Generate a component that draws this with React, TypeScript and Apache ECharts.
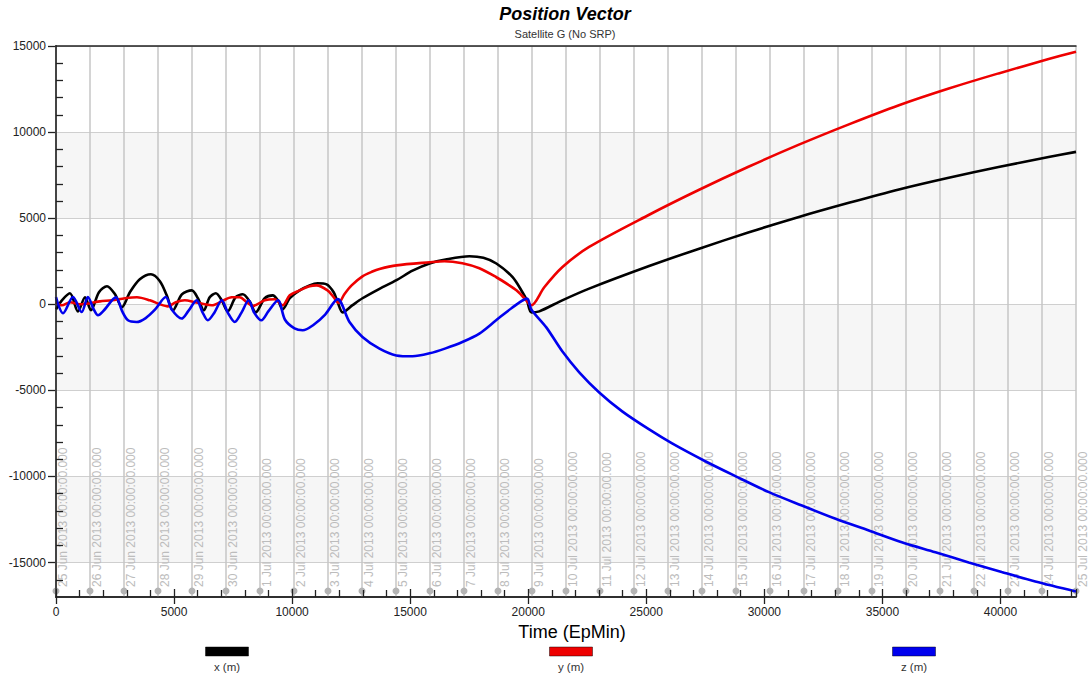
import React, { useEffect, useRef } from "react";
import * as echarts from "echarts";

const FONT = "'Liberation Sans', Arial, Helvetica, sans-serif";

// Axis ranges (minutes from epoch, metres)
const X_MIN = 0;
const X_MAX = 43200;
const Y_MIN = -17000;
const Y_MAX = 15000;

const yTickValues = [-15000, -10000, -5000, 0, 5000, 10000, 15000];

// Calendar markers, one per day from the epoch
const dayLabels = [
  "25 Jun", "26 Jun", "27 Jun", "28 Jun", "29 Jun", "30 Jun",
  "1 Jul", "2 Jul", "3 Jul", "4 Jul", "5 Jul", "6 Jul", "7 Jul", "8 Jul",
  "9 Jul", "10 Jul", "11 Jul", "12 Jul", "13 Jul", "14 Jul", "15 Jul",
  "16 Jul", "17 Jul", "18 Jul", "19 Jul", "20 Jul", "21 Jul", "22 Jul",
  "23 Jul", "24 Jul", "25 Jul",
];
const dayMinutes = dayLabels.map((_, i) => i * 1440);

const seriesNames = ["x (m)", "y (m)", "z (m)"];
const seriesColors = ["#000000", "#ee0000", "#0000ee"];
const legendCenters = [227, 571, 914];

// [time (EpMin), position (m)]
const xPosition = [
  [0, -300], [250, 230], [590, 640], [930, -410], [1230, 410], [1480, -350],
  [1820, 700], [2160, 1050], [2500, 580], [2790, -170], [3130, 700], [3550, 1450],
  [4020, 1740], [4400, 1340], [4690, 520], [4950, -350], [5330, 580], [5750, 810],
  [6010, 350], [6260, -350], [6510, 410], [6770, 640], [7020, 230], [7270, -410],
  [7610, 410], [7910, 580], [8200, 170], [8460, -470], [8840, 350], [9180, 520],
  [9400, 230], [9600, -290], [9900, 350], [10320, 810], [10740, 1100], [11080, 1220],
  [11460, 1160], [11760, 700], [11930, 120], [12140, -470], [12560, -50], [12980, 350],
  [13700, 900], [14420, 1400], [15100, 1950], [15820, 2370], [16500, 2600], [17510, 2790],
  [18100, 2700], [18650, 2370], [19330, 1590], [19750, 715], [19950, 200], [20130, -470],
  [20470, -410], [21440, 230], [22580, 910], [25120, 2220], [27240, 3230], [29350, 4180],
  [31465, 5070], [33580, 5890], [35700, 6670], [37810, 7350], [39920, 7970], [42040, 8550],
  [43200, 8850],
];

const yPosition = [
  [0, 120], [250, -60], [590, 120], [1015, 0], [1440, 60], [1860, 170],
  [2370, 230], [2920, 350], [3430, 410], [3975, 230], [4400, 0], [4740, -120],
  [5075, 120], [5455, 230], [5880, 120], [6300, 0], [6600, -60], [7020, 170],
  [7440, 410], [7780, 410], [8080, 120], [8330, -100], [8840, 230], [9260, 290],
  [9600, -60], [9900, 520], [10320, 810], [10740, 1050], [11030, 1100], [11500, 810],
  [11760, 410], [11970, 80], [12220, 600], [12520, 1100], [12980, 1620], [13400, 1900],
  [13700, 2050], [14420, 2260], [15820, 2440], [16450, 2500], [17210, 2380], [17930, 2090],
  [18650, 1570], [19200, 1100], [19500, 810], [19840, 350], [20130, -60], [20680, 990],
  [21440, 2150], [22580, 3330], [25120, 5200], [27240, 6650], [29350, 8000], [31465, 9270],
  [33580, 10450], [35700, 11560], [37810, 12530], [39920, 13410], [42040, 14240], [43200, 14670],
];

const zPosition = [
  [0, 420], [300, -520], [720, 420], [1090, -450], [1350, 420], [1600, -300],
  [1780, -640], [2000, -400], [2540, 400], [2800, -400], [3050, -930], [3410, -1030],
  [3800, -800], [4200, -300], [4650, 420], [4900, -300], [5320, -830], [5600, -400],
  [5960, 230], [6200, -450], [6430, -930], [6700, -500], [7020, 230], [7280, -500],
  [7570, -1030], [7850, -500], [8160, 230], [8400, -500], [8700, -930], [9000, -400],
  [9400, 230], [9700, -900], [10100, -1400], [10450, -1510], [10900, -1200], [11400, -600],
  [11930, 300], [12430, -1030], [12980, -1900], [13700, -2580], [14410, -2970], [15100, -3020],
  [15820, -2850], [16500, -2560], [17210, -2190], [17930, -1700], [18640, -930], [19290, -230],
  [19950, 330], [20130, -300], [20766, -1340], [21442, -2730], [22161, -3950], [23007, -5120],
  [23980, -6220], [25122, -7270], [26094, -8080], [27520, -9130], [28790, -9990], [30197, -10910],
  [31593, -11690], [33018, -12460], [34426, -13140], [35822, -13820], [37246, -14400], [38655, -14990],
  [40051, -15550], [41476, -16100], [43200, -16680],
];

const seriesData = [xPosition, yPosition, zPosition];

const plainNumber = (v: number) => String(v);

export default function App() {
  const ref = useRef<HTMLDivElement>(null);

  useEffect(() => {
    if (!ref.current) return;
    const chart = echarts.init(ref.current, null, { renderer: "svg" });

    const gridBox = { left: 56, right: 12, top: 46, bottom: 80 };
    const axisColor = "#222222";

    const option: any = {
      animation: false,
      backgroundColor: "#ffffff",
      textStyle: { fontFamily: FONT },
      title: {
        text: "Position Vector",
        subtext: "Satellite G (No SRP)",
        left: 560,
        top: 0,
        textAlign: "center",
        itemGap: 5,
        textStyle: { fontFamily: FONT, fontSize: 18, fontWeight: "bold", fontStyle: "italic", color: "#000" },
        subtextStyle: { fontFamily: FONT, fontSize: 11, color: "#333" },
      },
      grid: [
        { ...gridBox },
        { ...gridBox },
      ],
      xAxis: [
        {
          type: "value",
          gridIndex: 0,
          position: "bottom",
          min: X_MIN,
          max: X_MAX,
          interval: 5000,
          axisLine: { show: true, onZero: false, lineStyle: { color: axisColor, width: 1.5 } },
          axisTick: { show: true, inside: false, length: 7, lineStyle: { color: axisColor, width: 1.3 } },
          axisLabel: {
            show: true, margin: 9, fontSize: 12, color: "#222", fontFamily: FONT,
            showMaxLabel: false, formatter: plainNumber,
          },
          splitLine: { show: false },
          name: "Time (EpMin)",
          nameLocation: "middle",
          nameGap: 24,
          nameTextStyle: { fontSize: 18, color: "#000", fontFamily: FONT, padding: [0, 0, 0, 12] },
        },
        {
          type: "value",
          gridIndex: 1,
          position: "bottom",
          min: X_MIN,
          max: X_MAX,
          interval: 5000,
          z: 5,
          axisLine: { show: true, onZero: false, lineStyle: { color: axisColor, width: 1.5 } },
          axisTick: { show: true, inside: true, length: 8, lineStyle: { color: axisColor, width: 1.3 } },
          minorTick: { show: true, splitNumber: 5, length: 7, lineStyle: { color: axisColor, width: 1.3 } },
          axisLabel: { show: false },
          splitLine: { show: false },
        },
        {
          type: "value",
          gridIndex: 1,
          position: "top",
          min: X_MIN,
          max: X_MAX,
          z: 5,
          axisLine: { show: true, onZero: false, lineStyle: { color: axisColor, width: 1.5 } },
          axisTick: { show: false },
          axisLabel: { show: false },
          splitLine: { show: false },
        },
      ],
      yAxis: [
        {
          type: "value",
          gridIndex: 0,
          position: "left",
          min: Y_MIN,
          max: Y_MAX,
          axisLine: { show: true, onZero: false, lineStyle: { color: axisColor, width: 1.5 } },
          axisTick: { show: true, inside: false, length: 8, customValues: yTickValues, lineStyle: { color: axisColor, width: 1.3 } },
          axisLabel: {
            show: true, margin: 10, fontSize: 12, color: "#222", fontFamily: FONT,
            customValues: yTickValues, formatter: plainNumber,
          },
          splitLine: { show: true, lineStyle: { color: "#cfcfcf", width: 1.2 } },
          splitArea: { show: true, areaStyle: { color: ["#f6f6f6", "#ffffff"] } },
        },
        {
          type: "value",
          gridIndex: 1,
          position: "left",
          min: Y_MIN,
          max: Y_MAX,
          z: 5,
          axisLine: { show: true, onZero: false, lineStyle: { color: axisColor, width: 1.5 } },
          axisTick: { show: false, inside: true },
          minorTick: { show: true, splitNumber: 5, length: 7, lineStyle: { color: axisColor, width: 1.3 } },
          axisLabel: { show: false },
          splitLine: { show: false },
        },
      ],
      graphic: seriesNames.flatMap((name, i) => [
        {
          type: "rect",
          shape: { x: legendCenters[i] - 21.5, y: 647, width: 43, height: 9 },
          style: { fill: seriesColors[i], stroke: "rgba(0,0,0,0.45)", lineWidth: 1 },
        },
        {
          type: "text",
          x: legendCenters[i],
          y: 667,
          style: { text: name, fill: "#333", font: `11.5px ${FONT}`, align: "center", verticalAlign: "middle" },
        },
      ]),
      series: [
        {
          type: "custom",
          name: "days",
          xAxisIndex: 0,
          yAxisIndex: 0,
          z: 2,
          silent: true,
          clip: false,
          data: dayMinutes.map((t) => [t, 0]),
          renderItem: (params: any, api: any) => {
            const t = api.value(0);
            const bottom = api.coord([t, Y_MIN]);
            const top = api.coord([t, Y_MAX]);
            const label = `${dayLabels[params.dataIndex]} 2013 00:00:00.000`;
            return {
              type: "group",
              children: [
                {
                  type: "line",
                  shape: { x1: bottom[0], y1: bottom[1], x2: top[0], y2: top[1] },
                  style: { stroke: "#c6c6c6", lineWidth: 1.5 },
                },
                {
                  type: "circle",
                  shape: { cx: bottom[0], cy: bottom[1] - 6, r: 3.5 },
                  style: { fill: "#b4b4b4" },
                },
                {
                  type: "text",
                  x: bottom[0] + 0.5,
                  y: bottom[1] - 10,
                  rotation: Math.PI / 2,
                  style: {
                    text: label,
                    fill: "#bcbcbc",
                    font: `12px ${FONT}`,
                    align: "left",
                    verticalAlign: "top",
                  },
                },
              ],
            };
          },
        },
        ...seriesNames.map((name, i) => ({
          type: "line",
          name,
          xAxisIndex: 0,
          yAxisIndex: 0,
          z: 3,
          data: seriesData[i],
          showSymbol: false,
          smooth: 0.3,
          lineStyle: { color: seriesColors[i], width: 2.6 },
          itemStyle: { color: seriesColors[i] },
        })),
      ],
    };

    chart.setOption(option);
    return () => chart.dispose();
  }, []);

  return (
    <div
      ref={ref}
      style={{ position: "fixed", left: 0, top: 0, width: 1088, height: 677, background: "#fff" }}
    />
  );
}
